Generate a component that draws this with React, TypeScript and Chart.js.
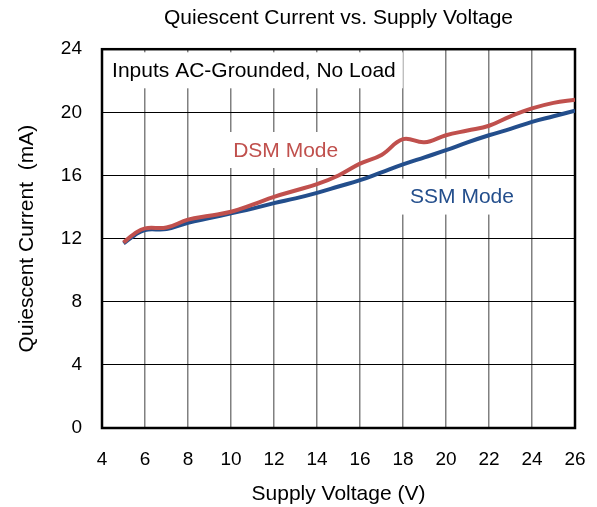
import React, { useEffect, useRef } from "react";
import { Chart, registerables } from "chart.js";

Chart.register(...registerables);

// ---- data ----
const voltages = [5, 5.5, 6, 7, 8, 9, 10, 11, 12, 13, 14, 15, 16, 17, 18, 19, 20, 21, 22, 23, 24, 25, 26];
const dsmCurrent = [11.75, 12.3, 12.65, 12.7, 13.2, 13.45, 13.7, 14.15, 14.65, 15.05, 15.45, 16.0, 16.75, 17.3, 18.3, 18.1, 18.55, 18.85, 19.15, 19.75, 20.25, 20.6, 20.8];
const ssmCurrent = [11.7, 12.2, 12.55, 12.6, 13.0, 13.3, 13.6, 13.9, 14.25, 14.55, 14.9, 15.3, 15.7, 16.2, 16.7, 17.15, 17.6, 18.1, 18.55, 18.95, 19.4, 19.75, 20.1];

const xRange = [4, 26];
const yRange = [0, 24];
const xStep = 2;
const yStep = 4;

const titleText = "Quiescent Current vs. Supply Voltage";
const xTitle = "Supply Voltage (V)";
const yTitle = "Quiescent Current  (mA)";

const noteTexts = ["Inputs AC-Grounded, No Load", "DSM Mode", "SSM Mode"];
const noteX = [4.47, 10.1, 18.33];
const noteY = [22.6, 17.55, 14.6];
const noteColors = ["#000000", "#C0504D", "#234E8C"];

const FONT = '"Liberation Sans", Arial, sans-serif';

const notesPlugin = {
  id: "notesPlugin",
  beforeDatasetsDraw(chart: any) {
    const { ctx, chartArea, scales } = chart;
    const xs = scales.x;
    const ys = scales.y;
    ctx.save();
    ctx.font = `21px ${FONT}`;
    ctx.textBaseline = "middle";
    ctx.textAlign = "left";
    noteTexts.forEach((t, i) => {
      const px = xs.getPixelForValue(noteX[i]);
      const py = ys.getPixelForValue(noteY[i]);
      const w = ctx.measureText(t).width;
      const left = Math.max(chartArea.left, px - 10);
      const top = Math.max(chartArea.top, py - 19);
      const right = px + w + 7;
      const bottom = py + 17;
      ctx.fillStyle = "#ffffff";
      ctx.fillRect(left, top, right - left, bottom - top);
      ctx.fillStyle = noteColors[i];
      ctx.fillText(t, px, py);
    });
    ctx.strokeStyle = "#000000";
    ctx.lineWidth = 2.5;
    ctx.strokeRect(chartArea.left, chartArea.top, chartArea.right - chartArea.left, chartArea.bottom - chartArea.top);
    ctx.restore();
  },
};

export default function App() {
  const ref = useRef<HTMLCanvasElement | null>(null);

  useEffect(() => {
    if (!ref.current) return;
    Chart.defaults.font.family = FONT;
    const chart = new Chart(ref.current, {
      type: "line",
      data: {
        datasets: [
          {
            label: "DSM Mode",
            data: voltages.map((v, i) => ({ x: v, y: dsmCurrent[i] })),
            borderColor: "#C0504D",
            borderWidth: 4,
            pointRadius: 0,
            tension: 0.4,
            fill: false,
          },
          {
            label: "SSM Mode",
            data: voltages.map((v, i) => ({ x: v, y: ssmCurrent[i] })),
            borderColor: "#234E8C",
            borderWidth: 4,
            pointRadius: 0,
            tension: 0.4,
            fill: false,
          },
        ],
      },
      options: {
        animation: false,
        responsive: false,
        devicePixelRatio: 1,
        layout: { padding: { left: 0, right: 22, top: 0, bottom: 0 } },
        plugins: {
          legend: { display: false },
          tooltip: { enabled: false },
          title: {
            display: true,
            text: titleText,
            fullSize: false,
            color: "#000",
            font: { size: 21, weight: "normal", family: FONT },
            padding: { top: 6, bottom: 18 },
          },
        },
        scales: {
          x: {
            type: "linear",
            min: xRange[0],
            max: xRange[1],
            ticks: { stepSize: xStep, padding: 20, color: "#000", font: { size: 19 } },
            grid: { color: "#808080", lineWidth: 1.5, drawTicks: false },
            border: { display: false },
            title: {
              display: true,
              text: xTitle,
              color: "#000",
              font: { size: 21 },
              padding: { top: 8, bottom: 0 },
            },
            afterFit: (s: any) => {
              s.height = 79;
              s.paddingLeft = 0;
              s.paddingRight = 0;
            },
          },
          y: {
            type: "linear",
            min: yRange[0],
            max: yRange[1],
            ticks: { stepSize: yStep, padding: 20, color: "#000", font: { size: 19 } },
            grid: { color: "#000000", lineWidth: 1, drawTicks: false },
            border: { display: false },
            title: {
              display: true,
              text: yTitle,
              color: "#000",
              font: { size: 21 },
              padding: { top: 15, bottom: 10 },
            },
            afterFit: (s: any) => {
              s.width = 102;
              s.paddingTop = 0;
              s.paddingBottom = 0;
            },
          },
        },
      },
      plugins: [notesPlugin],
    } as any);
    return () => chart.destroy();
  }, []);

  return (
    <div style={{ position: "absolute", left: 0, top: 0, width: 597, height: 507, background: "#fff" }}>
      <canvas ref={ref} width={597} height={507} />
    </div>
  );
}
